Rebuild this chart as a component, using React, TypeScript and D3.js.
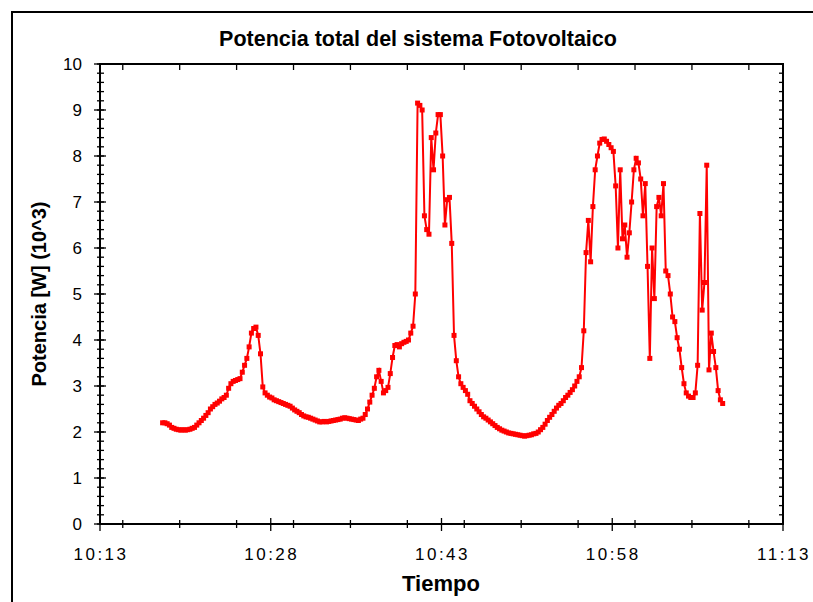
import { useEffect, useRef } from "react";
import * as d3 from "d3";

// first sample and sampling interval
const inicio = "10:18:30";
const pasoSeg = 12;

// total power in kW (10^3 W), one value every 12 s
const potencia = [
  2.2, 2.2, 2.18, 2.15, 2.1,
  2.08, 2.06, 2.05, 2.04, 2.05,
  2.04, 2.05, 2.06, 2.08, 2.1,
  2.15, 2.2, 2.25, 2.3, 2.36,
  2.42, 2.5, 2.55, 2.6, 2.63,
  2.67, 2.72, 2.75, 2.8, 2.95,
  3.05, 3.1, 3.12, 3.14, 3.16,
  3.3, 3.45, 3.6, 3.85, 4.15,
  4.25, 4.28, 4.1, 3.7, 2.98,
  2.85, 2.8, 2.76, 2.74, 2.7,
  2.68, 2.66, 2.64, 2.62, 2.6,
  2.58, 2.56, 2.52, 2.48, 2.45,
  2.42, 2.38, 2.35, 2.33, 2.32,
  2.3, 2.28, 2.26, 2.24, 2.22,
  2.22, 2.23, 2.22, 2.23, 2.24,
  2.25, 2.26, 2.27, 2.28, 2.3,
  2.31, 2.3, 2.29, 2.28, 2.27,
  2.26, 2.25, 2.28, 2.3, 2.38,
  2.5, 2.65, 2.8, 2.95, 3.2,
  3.34, 3.1, 2.85, 2.9, 2.97,
  3.27, 3.62, 3.88, 3.9, 3.85,
  3.92, 3.95, 3.97, 4.0, 4.15,
  4.3, 5.0, 9.15, 9.1, 9.0,
  6.7, 6.4, 6.3, 8.4, 7.7,
  8.5, 8.9, 8.9, 8.0, 6.5,
  7.05, 7.1, 6.1, 4.1, 3.55,
  3.2, 3.05, 2.97, 2.9, 2.82,
  2.68, 2.62, 2.56, 2.5, 2.44,
  2.38, 2.33, 2.3, 2.26, 2.22,
  2.18, 2.14, 2.1, 2.07, 2.04,
  2.02, 2.0, 1.98, 1.97, 1.96,
  1.95, 1.94, 1.93, 1.92, 1.91,
  1.92, 1.93, 1.94, 1.96, 1.97,
  2.0, 2.05, 2.1, 2.17, 2.25,
  2.32, 2.38, 2.45, 2.52, 2.58,
  2.62, 2.68, 2.75, 2.8, 2.86,
  2.92, 3.0, 3.1, 3.2, 3.4,
  4.2, 5.9, 6.6, 5.7, 6.9,
  7.7, 8.0, 8.28, 8.36, 8.37,
  8.32, 8.25, 8.18, 8.1, 7.35,
  6.0, 7.7, 6.2, 6.5, 5.8,
  6.33, 7.0, 7.7, 7.95, 7.85,
  7.5, 6.7, 7.4, 5.6, 3.6,
  6.0, 4.9, 6.9, 7.1, 6.7,
  7.4, 5.5, 5.4, 5.0, 4.5,
  4.4, 4.05, 3.8, 3.4, 3.05,
  2.85, 2.78, 2.75, 2.75, 2.85,
  3.45, 6.75, 4.65, 5.25, 7.8,
  3.35, 4.15, 3.75, 3.4, 2.9,
  2.7, 2.62,
];

const xTickLabels = ["10:13", "10:28", "10:43", "10:58", "11:13"];
const yTickValues = [0, 1, 2, 3, 4, 5, 6, 7, 8, 9, 10];

function App() {
  const svgRef = useRef<SVGSVGElement>(null);

  useEffect(() => {
    const left = 100;
    const right = 783;
    const top = 64;
    const bottom = 524;
    const font = "'Liberation Sans', Arial, sans-serif";

    const svg = d3.select(svgRef.current);
    svg.selectAll("*").remove();

    const parseHMS = d3.timeParse("%H:%M:%S");
    const parseHM = d3.timeParse("%H:%M");
    const t0 = parseHMS(inicio) as Date;
    const data = potencia.map((v, i) => ({
      t: new Date(t0.getTime() + i * pasoSeg * 1000),
      v,
    }));

    const xStart = parseHM(xTickLabels[0]) as Date;
    const xEnd = parseHM(xTickLabels[xTickLabels.length - 1]) as Date;
    const x = d3.scaleTime().domain([xStart, xEnd]).range([left, right]);
    const y = d3.scaleLinear().domain([0, 10]).range([bottom, top]);

    // outer frame
    svg.append("rect")
      .attr("x", 12).attr("y", 12)
      .attr("width", 820).attr("height", 620)
      .attr("fill", "none").attr("stroke", "#000").attr("stroke-width", 2);

    svg.append("text")
      .attr("x", 418).attr("y", 46)
      .attr("text-anchor", "middle")
      .attr("font-family", font).attr("font-weight", "bold").attr("font-size", 21.5)
      .text("Potencia total del sistema Fotovoltaico");

    const minorX = d3.timeMinute.every(5)!.range(xStart, new Date(xEnd.getTime() + 1000));
    const majorX = xTickLabels.map(s => parseHM(s) as Date);
    const minorY = d3.range(0, 10.001, 0.2);

    const g = svg.append("g").attr("stroke", "#000").attr("stroke-width", 1.3);

    // bottom and top axis ticks
    minorX.forEach(d => {
      g.append("line").attr("x1", x(d)).attr("x2", x(d)).attr("y1", bottom - 4).attr("y2", bottom + 4);
      g.append("line").attr("x1", x(d)).attr("x2", x(d)).attr("y1", top).attr("y2", top + 6);
    });
    majorX.forEach(d => {
      g.append("line").attr("x1", x(d)).attr("x2", x(d)).attr("y1", bottom - 6).attr("y2", bottom + 7);
    });

    // left and right axis ticks
    minorY.forEach(v => {
      g.append("line").attr("x1", left - 3).attr("x2", left + 4).attr("y1", y(v)).attr("y2", y(v));
      g.append("line").attr("x1", right - 4).attr("x2", right).attr("y1", y(v)).attr("y2", y(v));
    });
    yTickValues.forEach(v => {
      g.append("line").attr("x1", left - 6).attr("x2", left + 6).attr("y1", y(v)).attr("y2", y(v));
    });

    // plot frame
    svg.append("rect")
      .attr("x", left).attr("y", top)
      .attr("width", right - left).attr("height", bottom - top)
      .attr("fill", "none").attr("stroke", "#000").attr("stroke-width", 2);

    svg.append("g")
      .selectAll("text")
      .data(yTickValues)
      .join("text")
      .attr("x", 82)
      .attr("y", d => y(d) + 6)
      .attr("text-anchor", "end")
      .attr("font-family", font).attr("font-size", 17)
      .text(d => String(d));

    svg.append("g")
      .selectAll("text")
      .data(majorX)
      .join("text")
      .attr("x", d => x(d) + 1)
      .attr("y", 560)
      .attr("text-anchor", "middle")
      .attr("font-family", font).attr("font-size", 17)
      .attr("letter-spacing", 2.5)
      .text((d, i) => xTickLabels[i]);

    svg.append("text")
      .attr("x", 441).attr("y", 591)
      .attr("text-anchor", "middle")
      .attr("font-family", font).attr("font-weight", "bold").attr("font-size", 22)
      .text("Tiempo");

    svg.append("text")
      .attr("transform", "translate(46,294) rotate(-90)")
      .attr("text-anchor", "middle")
      .attr("font-family", font).attr("font-weight", "bold").attr("font-size", 20)
      .text("Potencia [W] (10^3)");

    const line = d3.line<{ t: Date; v: number }>()
      .x(d => x(d.t))
      .y(d => y(d.v));

    svg.append("path")
      .datum(data)
      .attr("fill", "none")
      .attr("stroke", "#ff0000")
      .attr("stroke-width", 2)
      .attr("d", line);

    svg.append("g")
      .selectAll("rect")
      .data(data)
      .join("rect")
      .attr("x", d => x(d.t) - 2.5)
      .attr("y", d => y(d.v) - 2.5)
      .attr("width", 5)
      .attr("height", 5)
      .attr("fill", "#ff0000");
  }, []);

  return (
    <svg
      ref={svgRef}
      width={813}
      height={602}
      style={{ position: "absolute", left: 0, top: 0, background: "#fff" }}
    ></svg>
  );
}

export default App;
